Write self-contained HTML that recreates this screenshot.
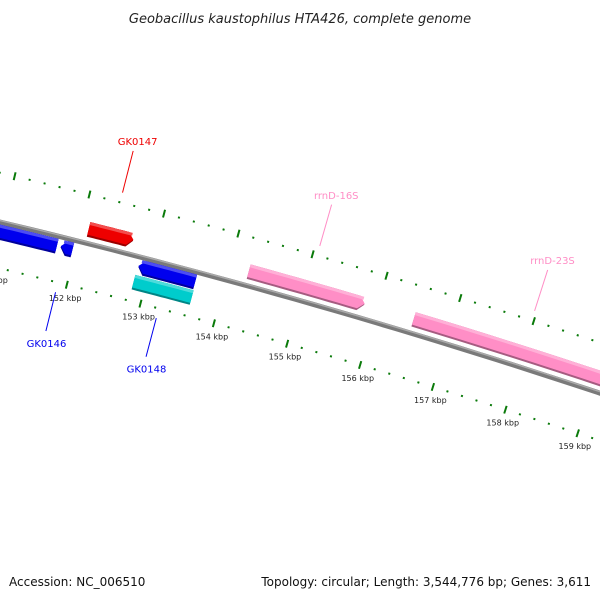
<!DOCTYPE html>
<html><head><meta charset="utf-8"><style>
body{margin:0;background:#fff}
svg{display:block;font-family:"DejaVu Sans","Liberation Sans",sans-serif}
</style></head><body>
<svg id="map" width="600" height="600" viewBox="0 0 600 600" xmlns="http://www.w3.org/2000/svg">
<text x="300" y="23" text-anchor="middle" font-size="13" font-style="italic" fill="#222">Geobacillus kaustophilus HTA426, complete genome</text>
<text x="9" y="586" font-size="12" fill="#111">Accession: NC_006510</text>
<text x="591" y="586" font-size="12" fill="#111" text-anchor="end">Topology: circular; Length: 3,544,776 bp; Genes: 3,611</text>
<g id="ticks"></g><g id="back"></g><g id="feats"></g><g id="labels"></g>
</svg>
<script>
// data (kbp)
const featNames = ["GK0146","GK0146b","GK0147","GK0148","GK0148b","rrnD-16S","rrnD-23S"];
const featStart = [150.3,151.80,152.10,152.85,152.84,154.26,156.50];
const featEnd   = [151.75,151.96,152.70,153.62,153.63,155.83,160.5];
const featTrack = [-10,-10,14,-10,-26,14,14];
const featArrow = [0,-1,1,-1,0,1,0];
const featColor = ["#0000ee","#0000ee","#ee0000","#0000ee","#00cccc","#ff8ec6","#ff8ec6"];
const labelText = ["GK0146","GK0147","GK0148","rrnD-16S","rrnD-23S"];
const labelPos  = [151.88,152.41,153.25,155.06,157.97];
const labelSide = [-1,1,-1,1,1];
const labelColor= ["#0000ee","#ee0000","#0000ee","#ff8ec6","#ff8ec6"];
const majorTicks = [151,152,153,154,155,156,157,158,159,160];
const tickLabels = ["151 kbp","152 kbp","153 kbp","154 kbp","155 kbp","156 kbp","157 kbp","158 kbp","159 kbp","160 kbp"];

const CX=-1673, CY=7225, RB=7200, RIN=7155, ROUT=7248;
const NS="http://www.w3.org/2000/svg";
function ang(k){return 0.2775+(k-155)*0.010625;}
function pt(k,r){const a=ang(k);return [CX+r*Math.sin(a), CY-r*Math.cos(a)];}
function mk(tag,attrs,parent){const e=document.createElementNS(NS,tag);for(const k in attrs)e.setAttribute(k,attrs[k]);parent.appendChild(e);return e;}
const gT=document.getElementById('ticks'),gB=document.getElementById('back'),gF=document.getElementById('feats'),gL=document.getElementById('labels');

function arcPath(k1,k2,r){let d="";for(let i=0;i<=40;i++){const p=pt(k1+(k2-k1)*i/40,r);d+=(i?"L":"M")+p[0].toFixed(1)+","+p[1].toFixed(1);}return d;}
let bb=mk('path',{d:arcPath(150,161,RB),stroke:"#7a7a7a","stroke-width":5,fill:"none"},gB);


let bh=mk('path',{d:arcPath(150,161,RB+1.5),stroke:"#aaaaaa","stroke-width":1.5,fill:"none"},gB);



for(let k=150.0;k<=160.6;k+=0.2){
  const kk=Math.round(k*10)/10;const major=Math.abs(kk-Math.round(kk))<0.01;
  [RIN,ROUT].forEach(r=>{
    const l=major?4:1;
    const a=pt(kk,r-l),b=pt(kk,r+l);
    const t=mk('line',{x1:a[0],y1:a[1],x2:b[0],y2:b[1],stroke:"#0a7a0a","stroke-width":2},gT);
    
    
  });
}
majorTicks.forEach((k,i)=>{
  const p=pt(k+0.03,RIN-16);
  const t=mk('text',{x:p[0],y:p[1],"font-size":"8","text-anchor":"middle",fill:"#222"},gT);
  t.textContent=tickLabels[i];
  
  
});

function shade(c,f){const n=parseInt(c.slice(1),16);let r=n>>16,g=(n>>8)&255,b=n&255;
  if(f>0){r+= (255-r)*f;g+=(255-g)*f;b+=(255-b)*f;}else{r*=1+f;g*=1+f;b*=1+f;}
  return "rgb("+Math.round(r)+","+Math.round(g)+","+Math.round(b)+")";}
function band(k1,k2,r1,r2,arrow,headK){
  const pts=[];const N=12;
  let s=k1,e=k2;
  if(arrow===1)e=k2-headK; if(arrow===-1)s=k1+headK;
  for(let i=0;i<=N;i++)pts.push(pt(s+(e-s)*i/N,r2));
  if(arrow===1)pts.push(pt(k2,(r1+r2)/2));
  for(let i=N;i>=0;i--)pts.push(pt(s+(e-s)*i/N,r1));
  if(arrow===-1)pts.push(pt(k1,(r1+r2)/2));
  return pts.map(p=>p[0].toFixed(1)+","+p[1].toFixed(1)).join(" ");
}
featNames.forEach((n,i)=>{
  const rc=RB+featTrack[i],h=7.5,head=0.08;
  const g=mk('g',{},gF);
  
  
  mk('polygon',{points:band(featStart[i],featEnd[i],rc-h,rc+h,featArrow[i],head),fill:shade(featColor[i],-0.35)},g);
  mk('polygon',{points:band(featStart[i],featEnd[i],rc-h+2,rc+h,featArrow[i],head),fill:featColor[i]},g);
  mk('polygon',{points:band(featStart[i]+(featArrow[i]===-1?0.03:0),featEnd[i]-(featArrow[i]===1?0.03:0),rc+h-3,rc+h,0,0),fill:shade(featColor[i],0.3)},g);
});

labelText.forEach((t,i)=>{
  const s=labelSide[i];
  const r1=s>0?ROUT+10:RIN-10, r2=s>0?ROUT+53:RIN-50, rt=s>0?ROUT+59:RIN-60;
  const a=pt(labelPos[i],r1),b=pt(labelPos[i],r2),c=pt(labelPos[i],rt);
  const l=mk('line',{x1:a[0],y1:a[1],x2:b[0],y2:b[1],stroke:labelColor[i],"stroke-width":1},gL);
  
  
  const tx=mk('text',{x:c[0]+3,y:c[1]+(s>0?0:6),"font-size":"10","text-anchor":"middle",fill:labelColor[i]},gL);
  tx.textContent=t;
  
  
});
</script>
</body></html>
